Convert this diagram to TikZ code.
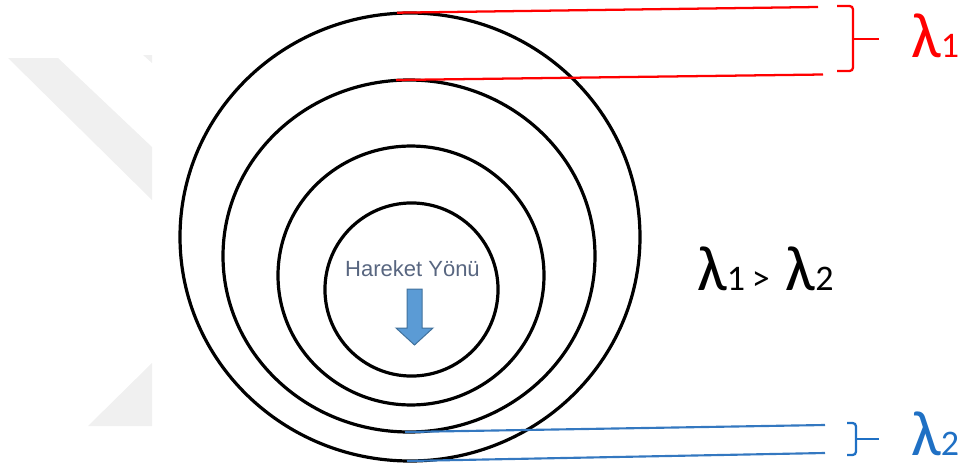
\documentclass[tikz,border=0pt]{standalone}
\usepackage{fontspec}
\setmainfont{Liberation Sans}
\newfontfamily\calfont{Carlito}
\definecolor{wred}{RGB}{255,0,0}
\definecolor{wblue}{RGB}{52,120,192}
\definecolor{lblue}{RGB}{31,112,196}
\definecolor{slate}{RGB}{88,102,128}
\definecolor{arrfill}{RGB}{91,155,213}
\definecolor{arrline}{RGB}{65,113,156}
\definecolor{wmark}{RGB}{240,240,240}
\newcommand{\biglam}[1]{{\calfont\fontsize{48}{48}\selectfont λ\fontsize{27}{27}\selectfont #1}}
\begin{document}
\begin{tikzpicture}[x=0.75pt,y=-0.75pt,
  ring/.style={line width=2.4pt,black},
  redline/.style={line width=1.7pt,wred},
  blueline/.style={line width=1.6pt,wblue},
  bracebox/.style={line width=1.7pt,rounded corners=2.5pt},
  lamlabel/.style={inner sep=0pt,anchor=base west}]
\useasboundingbox (0,0) rectangle (961,471);
% faint watermark
\fill[wmark] (8,58) -- (58,58) -- (152,147) -- (152,200) -- cycle;
\fill[wmark] (143,55) -- (152,55) -- (152,63) -- cycle;
\fill[wmark] (152,363) -- (152,426) -- (88,426) -- cycle;
% rings
\draw[ring] (410,237) ellipse [x radius=172.5pt, y radius=168pt];
\draw[ring] (409,256) ellipse [x radius=139.5pt, y radius=132pt];
\draw[ring] (411,275.5) ellipse [x radius=99.75pt, y radius=97.1pt];
\draw[ring] (411.5,289.5) ellipse [x radius=64.9pt, y radius=64.9pt];
% lambda 1 lines
\coordinate (r1a) at (397,12.7);
\coordinate (r1b) at (818,7);
\coordinate (r2a) at (396,80);
\coordinate (r2b) at (823,74.5);
\draw[redline] (r1a) -- (r1b);
\draw[redline] (r2a) -- (r2b);
\coordinate (rbt) at (837,6);
\coordinate (rbm) at (853,39);
\coordinate (rbb) at (837,71);
\coordinate (rtip) at (879,39);
\draw[bracebox,wred] (rbt) -| (rbm) |- (rbb);
\draw[line width=1.7pt,wred] (rbm) -- (rtip);
\node[lamlabel,text=wred] (l1) at (911,57) {\biglam{1}};
% lambda 2 lines
\coordinate (b1a) at (405,432);
\coordinate (b1b) at (825,425);
\coordinate (b2a) at (407,461);
\coordinate (b2b) at (825,453);
\draw[blueline] (b1a) -- (b1b);
\draw[blueline] (b2a) -- (b2b);
\coordinate (bbt) at (847,423);
\coordinate (bbm) at (856,439);
\coordinate (bbb) at (847,455);
\coordinate (btip) at (879,439);
\draw[bracebox,lblue] (bbt) -| (bbm) |- (bbb);
\draw[line width=1.7pt,lblue] (bbm) -- (btip);
\node[lamlabel,text=lblue] (l2) at (911,455) {\biglam{2}};
% comparison
\node[lamlabel] (cmp) at (697,290) {\biglam{1}{\calfont\fontsize{27}{27}\selectfont\hspace{5pt}>\hspace{12pt}}\biglam{2}};
% center text and arrow
\node[inner sep=0pt,anchor=base,text=slate,font=\fontsize{16.5}{16.5}\selectfont] (hy) at (412.5,276) {Hareket Yönü};
\draw[fill=arrfill,draw=arrline,line width=0.75pt] (407,289) -- (422,289) -- (422,328) -- (433,328) -- (414.5,345) -- (396,328) -- (407,328) -- cycle;
\end{tikzpicture}
\end{document}
